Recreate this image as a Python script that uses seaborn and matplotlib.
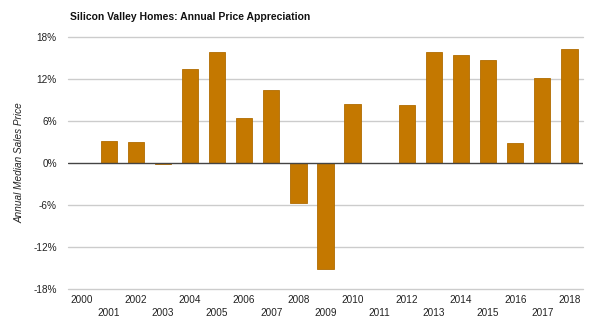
import matplotlib
matplotlib.use("Agg")
import matplotlib.pyplot as plt
import seaborn as sns
import pandas as pd

years = [str(y) for y in range(2000, 2019)]
appreciation = [0.0, 3.1, 3.0, -0.1, 13.4, 15.9, 6.5, 10.5, -5.7, -15.2,
                8.4, 0.0, 8.3, 15.8, 15.4, 14.7, 2.8, 12.1, 16.3]
yticks = [-18, -12, -6, 0, 6, 12, 18]
ytick_labels = ["-18%", "-12%", "-6%", "0%", "6%", "12%", "18%"]
title = "Silicon Valley Homes: Annual Price Appreciation"
ylabel = "Annual Median Sales Price"

sns.set_theme(style="white")
plt.rcParams["font.family"] = ["Liberation Sans", "DejaVu Sans"]

df = pd.DataFrame({"year": years, "value": appreciation})

fig = plt.figure(figsize=(6.0, 3.32), dpi=100)
ax = fig.add_axes([68 / 600, 1 - 289 / 332, (583 - 68) / 600, (289 - 37) / 332])
fig.patch.set_facecolor("white")
ax.set_facecolor("white")

for y in yticks:
    if y != 0:
        ax.axhline(y, color="#cccccc", lw=1, zorder=0, clip_on=False)

sns.barplot(data=df, x="year", y="value", color="#c47800", width=0.6,
            saturation=1, edgecolor="#b06c00", linewidth=0.6, ax=ax, zorder=2)
ax.axhline(0, color="#444444", lw=1, zorder=3)

ax.set_ylim(-18, 18)
ax.set_xlim(-0.5, len(years) - 0.5)
ax.set_yticks(yticks)
ax.set_yticklabels(ytick_labels, fontsize=7.2, color="#222222")
ax.set_xticks(range(len(years)))
ax.set_xticklabels(years, fontsize=7.2, color="#222222")
for i, tick in enumerate(ax.xaxis.get_major_ticks()):
    tick.set_pad(4 if i % 2 == 0 else 14)
ax.tick_params(axis="both", length=0)
ax.tick_params(axis="y", pad=8)
for s in ax.spines.values():
    s.set_visible(False)
ax.set_xlabel("")
ax.set_ylabel("")
fig.text(20 / 600, 1 - 163 / 332, ylabel, fontsize=7.2, style="italic",
         color="#222222", rotation=90, va="center", ha="center")
fig.text(70 / 600, 1 - 17 / 332, title, fontsize=7.5, fontweight="bold",
         color="#111111", va="center", ha="left")

fig.savefig("out.png", dpi=100)
